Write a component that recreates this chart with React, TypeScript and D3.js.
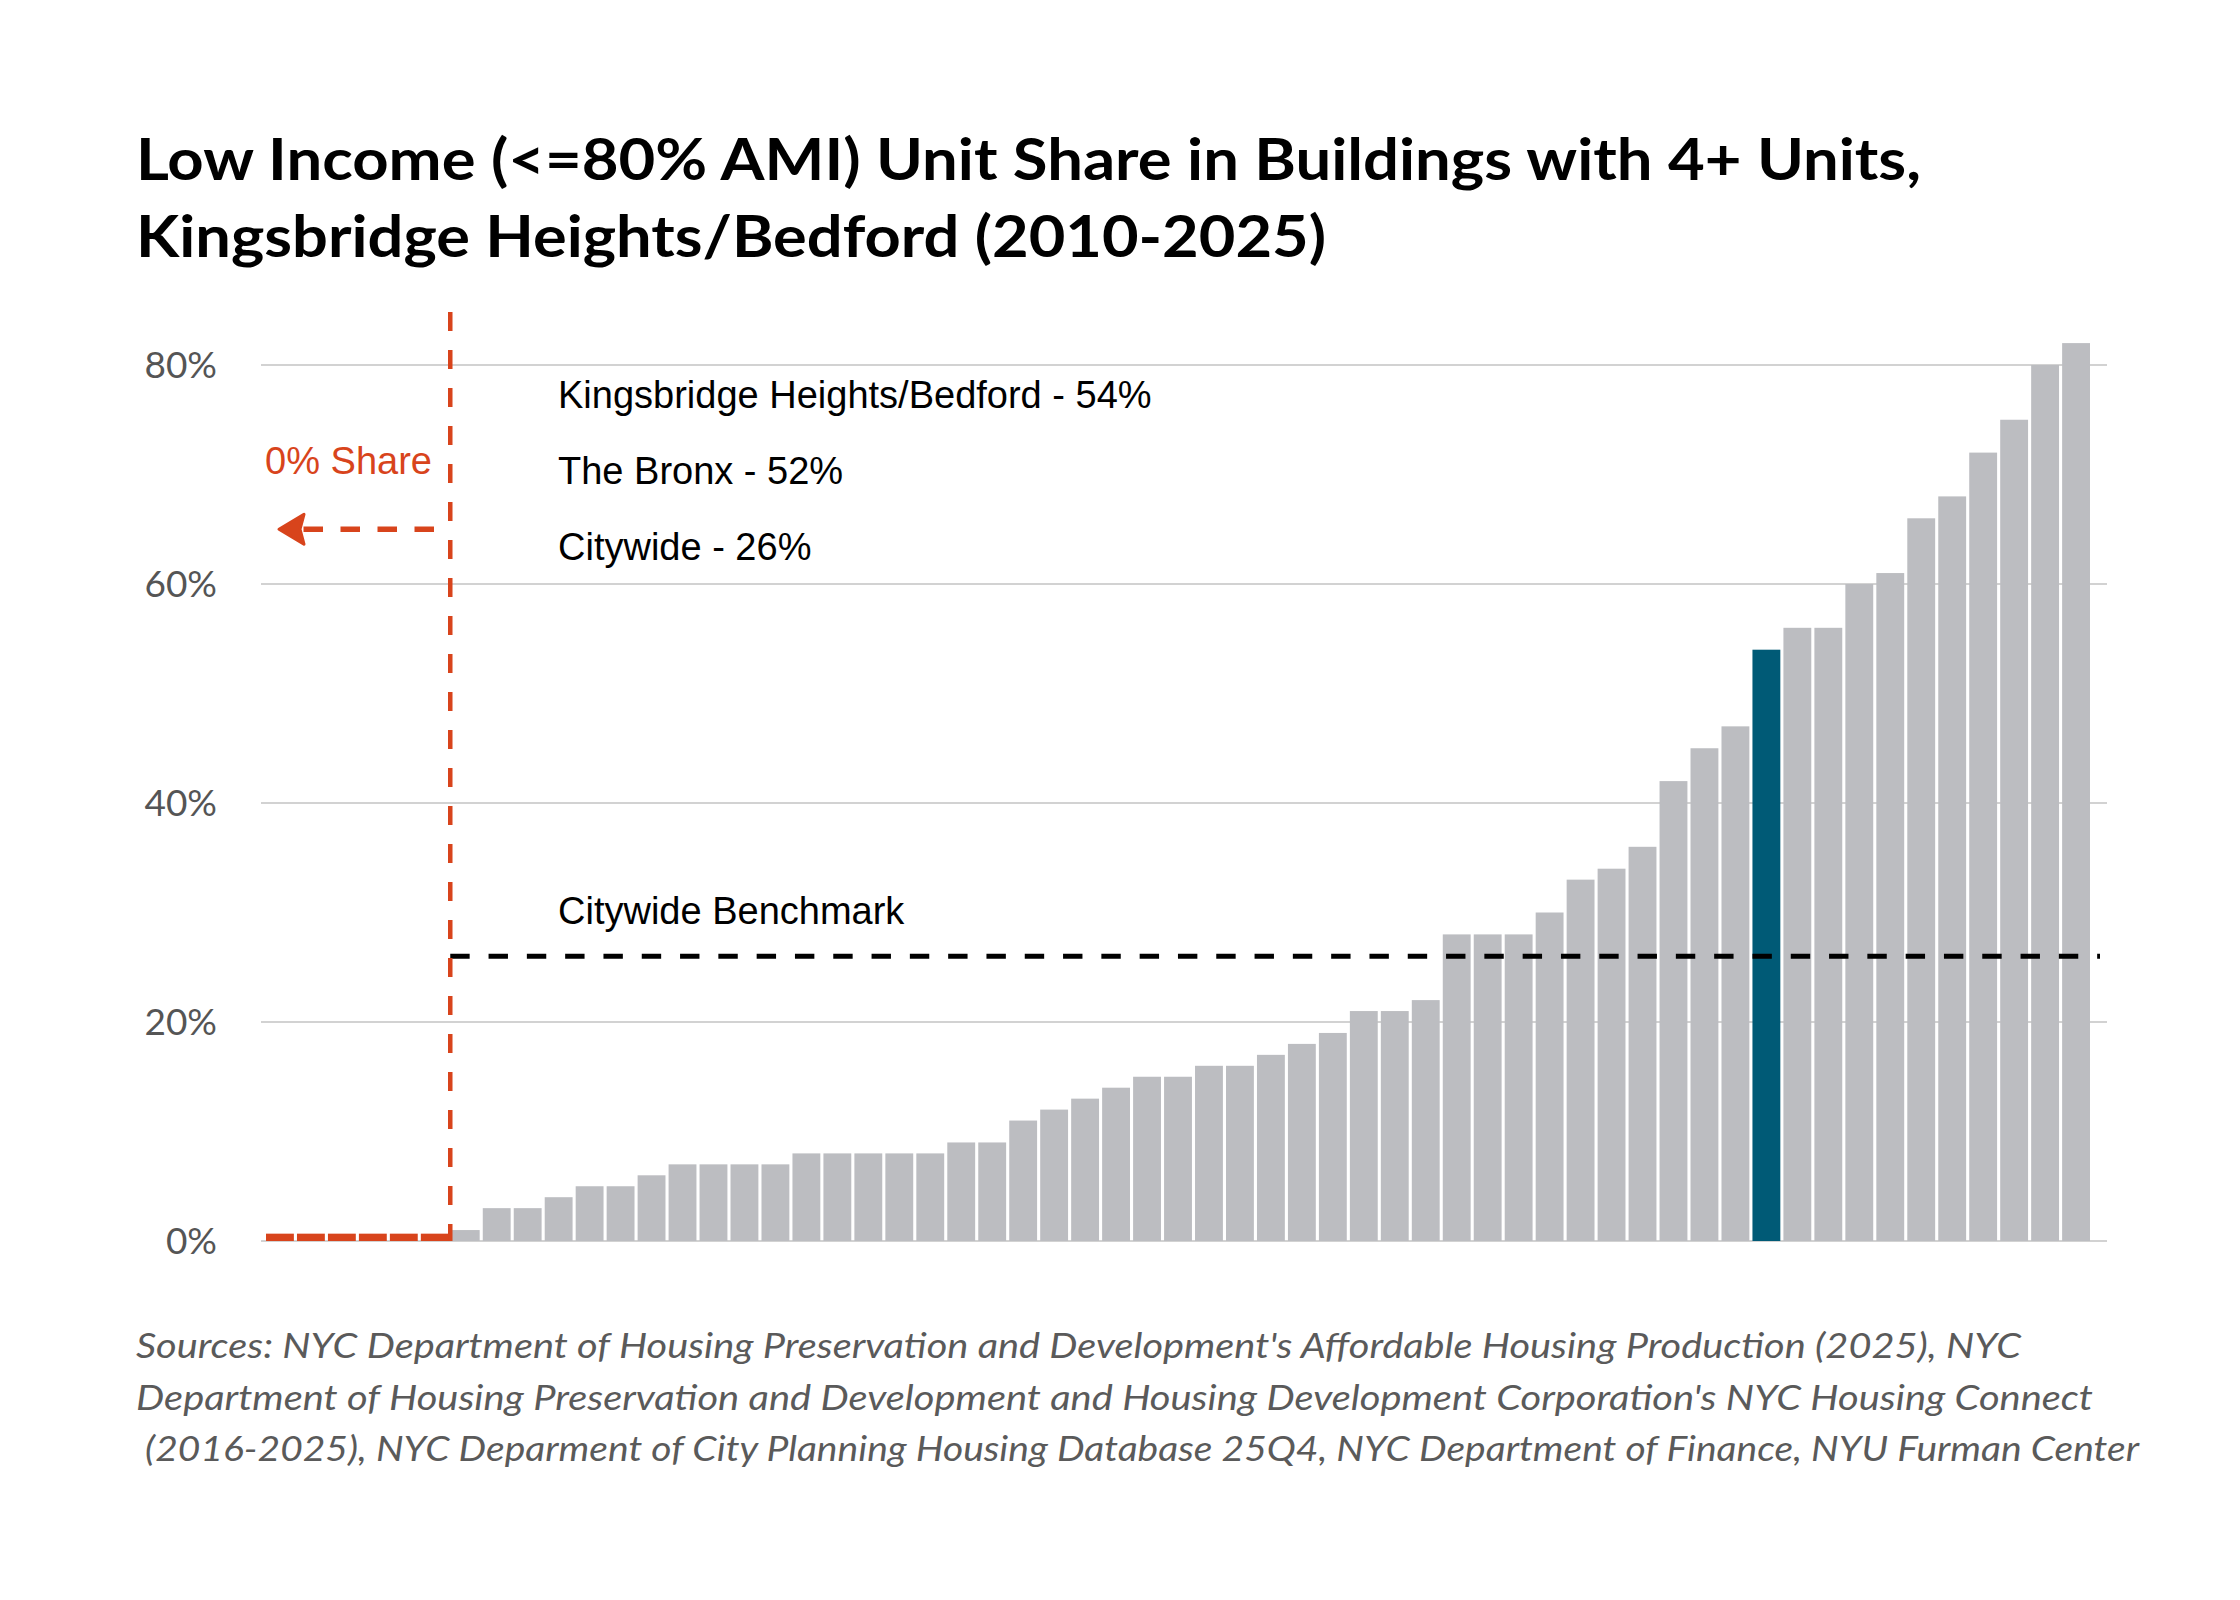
import { useEffect } from 'react';
import * as d3 from 'd3';

// shares of low income units, sorted, one bar per community district
const shares = [
  0, 0, 0, 0, 0, 0,
  1, 3, 3, 4, 5, 5, 6, 7, 7, 7, 7, 8, 8, 8, 8, 8, 9, 9,
  11, 12, 13, 14, 15, 15, 16, 16, 17, 18, 19, 21, 21, 22,
  28, 28, 28, 30, 33, 34, 36, 42, 45, 47,
  54,
  56, 56, 60, 61, 66, 68, 72, 75, 80, 82,
];
const highlightShare = 54;
const citywideBenchmark = 26;
const yTicks = [0, 20, 40, 60, 80];
const zeroMarker = 0.67; // height drawn for 0% districts
const arrowLevel = 65;

const titleLines = [
  'Low Income (<=80% AMI) Unit Share in Buildings with 4+ Units,',
  'Kingsbridge Heights/Bedford (2010-2025)',
];
const areaLabels = [
  'Kingsbridge Heights/Bedford - 54%',
  'The Bronx - 52%',
  'Citywide - 26%',
];
const sourceLines = [
  "Sources: NYC Department of Housing Preservation and Development's Affordable Housing Production (2025), NYC",
  "Department of Housing Preservation and Development and Housing Development Corporation's NYC Housing Connect",
  ' (2016-2025), NYC Deparment of City Planning Housing Database 25Q4, NYC Department of Finance, NYU Furman Center',
];

const W = 2240;
const H = 1600;
const RED = '#d8441c';
const TEAL = '#005a76';
const GRAY = '#bcbdc1';
const humanist = 'Lato, "Open Sans", sans-serif';
const arial = '"Liberation Sans", Arial, sans-serif';

export default function App() {
  useEffect(() => {
    document.body.style.margin = '0';
  }, []);

  const ids = shares.map((_, i) => i);
  const x = d3.scaleBand<number>().domain(ids).range([266, 2090]).paddingInner(0.1).paddingOuter(0);
  const y = d3.scaleLinear().domain([0, 80]).range([1241, 365]);
  const highlightIdx = shares.indexOf(highlightShare);
  const firstNonZero = shares.findIndex((d) => d > 0);
  const splitX = (x(firstNonZero) as number) - (x.step() * x.paddingInner()) / 2;
  const [x0, x1] = x.range();
  const ay = y(arrowLevel);

  return (
    <svg width={W} height={H} style={{ display: 'block', background: '#fff' }}>
      {titleLines.map((t, i) => (
        <text
          key={t}
          x={136}
          y={180 + i * 77}
          fontFamily={humanist}
          fontWeight={700}
          fontSize={58}
          fill="#000"
          textLength={i === 0 ? 1785 : 1190}
          lengthAdjust="spacingAndGlyphs"
        >
          {t}
        </text>
      ))}

      {/* grid + y labels */}
      {yTicks.map((t) => (
        <g key={t}>
          <line x1={x0 - 5} x2={x1 + 17} y1={y(t)} y2={y(t)} stroke="#d2d2d2" strokeWidth={2} />
          <text
            x={217}
            y={y(t)}
            dy="0.35em"
            textAnchor="end"
            fontFamily={humanist}
            fontSize={37}
            fill="#555"
          >
            {t}%
          </text>
        </g>
      ))}

      {/* bars */}
      {shares.map((d, i) => {
        const v = d === 0 ? zeroMarker : d;
        return (
          <rect
            key={i}
            x={x(i)}
            y={y(v)}
            width={x.bandwidth()}
            height={y(0) - y(v)}
            fill={d === 0 ? RED : i === highlightIdx ? TEAL : GRAY}
          />
        );
      })}

      {/* citywide benchmark */}
      <line
        x1={splitX}
        x2={x1 + 10}
        y1={y(citywideBenchmark)}
        y2={y(citywideBenchmark)}
        stroke="#000"
        strokeWidth={5}
        strokeDasharray="19.4 18.9"
      />
      <text x={558} y={y(citywideBenchmark) - 32} fontFamily={arial} fontSize={38} fill="#000">
        Citywide Benchmark
      </text>

      {/* 0% share divider */}
      <line
        x1={splitX}
        x2={splitX}
        y1={312}
        y2={y(0)}
        stroke={RED}
        strokeWidth={4.5}
        strokeDasharray="19 19"
      />
      <text x={432} y={474} textAnchor="end" fontFamily={arial} fontSize={38} fill={RED}>
        0% Share
      </text>
      <line
        x1={434}
        x2={300}
        y1={ay}
        y2={ay}
        stroke={RED}
        strokeWidth={5.7}
        strokeDasharray="19.5 17.5"
      />
      <path
        d={`M279,${ay} L304,${ay - 15} L300,${ay} L304,${ay + 15} Z`}
        fill={RED}
        stroke={RED}
        strokeWidth={3}
        strokeLinejoin="round"
      />

      {areaLabels.map((t, i) => (
        <text key={t} x={558} y={408 + i * 76} fontFamily={arial} fontSize={38} fill="#000">
          {t}
        </text>
      ))}

      {sourceLines.map((t, i) => (
        <text
          key={i}
          x={136}
          y={1358 + i * 51.5}
          fontFamily={humanist}
          fontStyle="italic"
          fontSize={34}
          fill="#5a5a5a"
          style={{ whiteSpace: 'pre' }}
          textLength={[1885, 1957, 2003][i]}
          lengthAdjust="spacingAndGlyphs"
        >
          {t}
        </text>
      ))}
    </svg>
  );
}
